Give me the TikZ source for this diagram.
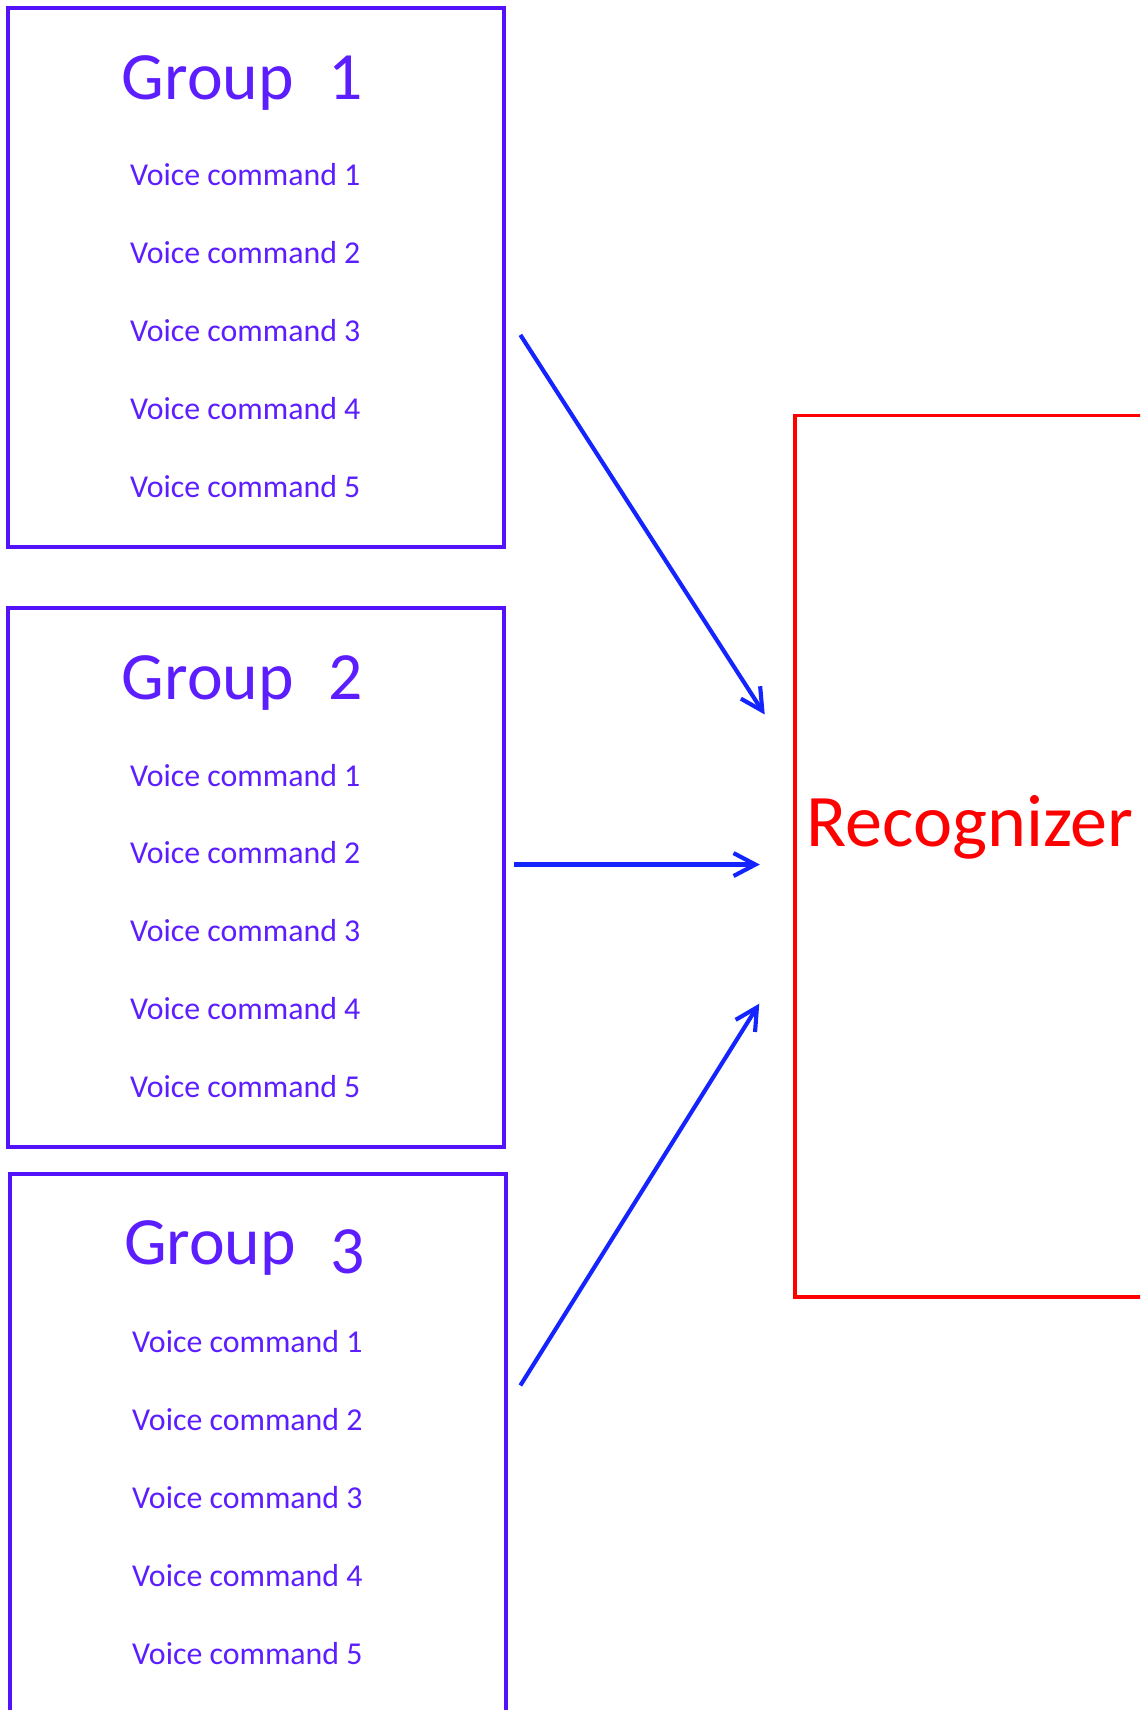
\documentclass[tikz,border=0pt]{standalone}
\usepackage{fontspec}
\setmainfont{Carlito}
\usetikzlibrary{arrows.meta}
\definecolor{boxpurple}{RGB}{84,18,250}
\definecolor{txtpurple}{RGB}{92,30,255}
\definecolor{arrowblue}{RGB}{20,36,255}
\definecolor{recred}{RGB}{255,0,0}
\tikzset{
  groupbox/.style={draw=boxpurple, line width=3.5pt, minimum width=455pt, minimum height=494.5pt, inner sep=0pt},
  recbox/.style={draw=recred, line width=3.3pt, minimum width=331pt, minimum height=808pt, inner sep=0pt},
  titletext/.style={anchor=base west, inner sep=0pt, text=txtpurple, font=\fontsize{62}{74}\selectfont},
  cmdtext/.style={anchor=base west, inner sep=0pt, text=txtpurple, font=\fontsize{29.2}{35}\selectfont},
  rectext/.style={anchor=base west, inner sep=0pt, text=recred, font=\fontsize{68}{81}\selectfont},
  flow/.style={draw=arrowblue, line width=3.8pt, -{Straight Barb[length=20pt,width=21pt]}}
}
\begin{document}
\begin{tikzpicture}[x=1pt,y=-1pt]
\clip (0,0) rectangle (1045,1567.5);
\fill[white] (0,0) rectangle (1045,1567.5);
% group boxes
\node[groupbox] (g1) at (234.5,254.25) {};
\node[groupbox] (g2) at (234.5,804.25) {};
\node[groupbox] (g3) at (236.5,1323.75) {};
% titles
\node[titletext] (t1) at (111.5,91.5) {Group\hspace{32pt}1};
\node[titletext] (t2) at (111.5,641.5) {Group\hspace{32pt}2};
\node[titletext] (t3) at (113.5,1159.5) {Group\hspace{32pt}\raisebox{-7.5pt}{3}};
% commands group 1
\node[cmdtext] (c11) at (119,170.5) {Voice command 1};
\node[cmdtext] (c12) at (119,241.9) {Voice command 2};
\node[cmdtext] (c13) at (119,313.3) {Voice command 3};
\node[cmdtext] (c14) at (119,384.7) {Voice command 4};
\node[cmdtext] (c15) at (119,456.1) {Voice command 5};
% commands group 2
\node[cmdtext] (c21) at (119,720.5) {Voice command 1};
\node[cmdtext] (c22) at (119,791.9) {Voice command 2};
\node[cmdtext] (c23) at (119,863.3) {Voice command 3};
\node[cmdtext] (c24) at (119,934.7) {Voice command 4};
\node[cmdtext] (c25) at (119,1006.1) {Voice command 5};
% commands group 3
\node[cmdtext] (c31) at (121,1240) {Voice command 1};
\node[cmdtext] (c32) at (121,1311.4) {Voice command 2};
\node[cmdtext] (c33) at (121,1382.8) {Voice command 3};
\node[cmdtext] (c34) at (121,1454.2) {Voice command 4};
\node[cmdtext] (c35) at (121,1525.6) {Voice command 5};
% recognizer
\node[recbox] (rec) at (894.5,785) {};
\node[rectext] (rect) at (739,776) {Recognizer};
% arrow endpoints
\coordinate (a1s) at (477,307);
\coordinate (a1e) at (701,655);
\coordinate (a2s) at (471,792.5);
\coordinate (a2e) at (696.5,792.5);
\coordinate (a3s) at (477,1270);
\coordinate (a3e) at (696,920);
\draw[flow] (a1s) -- (a1e);
\draw[flow] (a2s) -- (a2e);
\draw[flow] (a3s) -- (a3e);
\end{tikzpicture}
\end{document}
